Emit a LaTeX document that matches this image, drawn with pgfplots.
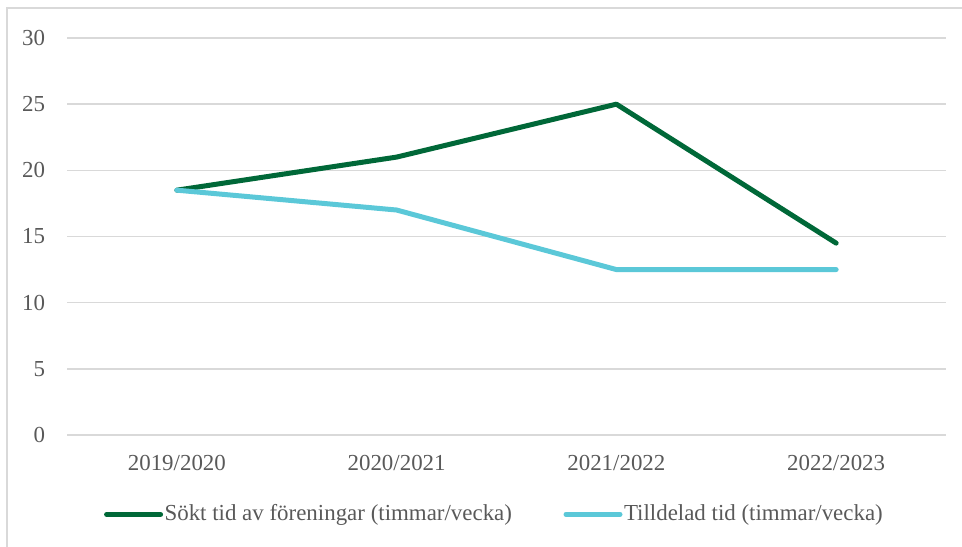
\documentclass[border=0pt]{standalone}
\usepackage{fontspec}
\setmainfont{Liberation Serif}
\usepackage{pgfplots}
\pgfplotsset{compat=1.18}
\definecolor{dgreen}{RGB}{0,104,56}
\definecolor{lblue}{RGB}{91,200,216}
\definecolor{gridc}{RGB}{217,217,217}
\definecolor{txt}{RGB}{89,89,89}
\begin{document}
\fontsize{23}{27}\selectfont
\begin{tikzpicture}[x=1bp,y=1bp]
\useasboundingbox (0,0) rectangle (962,547);
\draw[gridc, line width=2bp] (7,0) -- (7,539) -- (962,539);
\begin{axis}[
  at={(67bp,112bp)}, anchor=south west,
  scale only axis, width=879bp, height=397bp,
  xmin=-0.5, xmax=3.5, ymin=0, ymax=30,
  ytick={0,5,...,30},
  xtick={0,1,2,3},
  xticklabels={2019/2020,2020/2021,2021/2022,2022/2023},
  axis line style={draw=none},
  major tick length=0pt,
  ymajorgrids,
  grid style={gridc, line width=1.5bp},
  tick label style={text=txt, font=\fontsize{23}{27}\selectfont},
  /pgf/number format/assume math mode=true,
  yticklabel style={xshift=-14bp},
  xticklabel style={yshift=-12bp},
  clip=false,
  legend style={at={(axis description cs:0.486,-0.2)}, anchor=center,
    draw=none, fill=none, legend columns=2, text=txt,
    font=\fontsize{23}{27}\selectfont,
    nodes={inner sep=1.5bp},
    /tikz/every even column/.append style={column sep=50bp}},
  legend image code/.code={\draw[#1, line width=5bp, line cap=round] (0bp,0bp) -- (54bp,0bp);},
]
\addplot[dgreen, line width=5bp, line join=round, line cap=round] coordinates {(0,18.5) (1,21) (2,25) (3,14.5)};
\addlegendentry{Sökt tid av föreningar (timmar/vecka)}
\addplot[lblue, line width=5bp, line join=round, line cap=round] coordinates {(0,18.5) (1,17) (2,12.5) (3,12.5)};
\addlegendentry{Tilldelad tid (timmar/vecka)}
\end{axis}
\end{tikzpicture}
\end{document}
